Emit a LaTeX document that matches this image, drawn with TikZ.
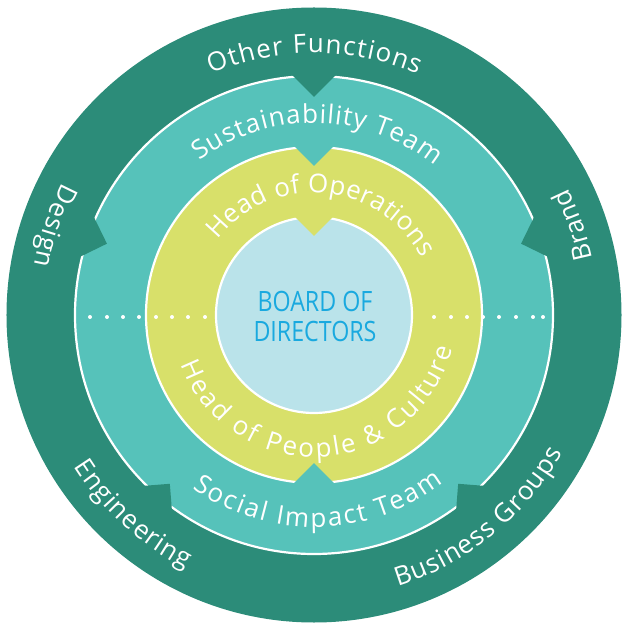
\documentclass[tikz,border=0pt]{standalone}
\usepackage{fontspec}
\setmainfont{Open Sans}
\newfontfamily\ringfont{Open Sans}
\newfontfamily\boardfont[FakeStretch=0.83]{Open Sans}
\usetikzlibrary{decorations.text}
\definecolor{darkg}{HTML}{2C8C79}
\definecolor{tealc}{HTML}{56C2BA}
\definecolor{yellc}{HTML}{D8E06A}
\definecolor{lblue}{HTML}{BAE3EA}
\definecolor{cyant}{HTML}{19A9DF}
\tikzset{
  ringlabel/.style n args={2}{decorate, decoration={text along path,
      text={|\ringfont\fontsize{26}{30}\selectfont\kern#1pt|#2},
      text align=center, text color=white}},
  whiteline/.style={draw=white, line width=2.2pt},
  dotmark/.style={fill=white},
  boardtext/.style={text=cyant, font=\boardfont\fontsize{28}{30}\selectfont, anchor=base, inner sep=0pt},
}
% clockwise label (reads over the top): letter spacing, centre angle, radius, text
\newcommand\cwlabel[4]{\path[ringlabel={#1}{#4}] (#2+100:#3) arc[start angle=#2+100, end angle=#2-100, radius=#3];}
% counter-clockwise label (reads along the bottom): letter spacing, centre angle, radius, text
\newcommand\ccwlabel[4]{\path[ringlabel={#1}{#4}] (#2-100:#3) arc[start angle=#2-100, end angle=#2+100, radius=#3];}
% notch: colour, angle, base radius, depth
\newcommand\notch[4]{\fill[#1, rotate=#2] (#3-#4,0) -- (#3+4,#4+4) -- (#3+4,-#4-4) -- cycle;}
\begin{document}
\begin{tikzpicture}[x=1pt,y=1pt]
\useasboundingbox (-314,-308) rectangle (307,315);
% outer ring
\fill[darkg] (0,0) circle[radius=307.5];
% teal ring
\fill[tealc] (0,0) circle[radius=239];
\draw[whiteline] (0,0) circle[radius=239];
\notch{darkg}{90}{239}{21}
\notch{darkg}{19}{239}{20}
\notch{darkg}{161}{239}{20}
\notch{darkg}{229.5}{239}{17}
\notch{darkg}{310.5}{239}{17}
% yellow ring
\fill[yellc] (0,0) circle[radius=168];
\draw[whiteline] (0,0) circle[radius=168];
\notch{tealc}{90}{168}{19}
\notch{tealc}{270}{168}{20}
% centre
\fill[lblue] (0,0) circle[radius=98];
\draw[whiteline] (0,0) circle[radius=98];
\notch{yellc}{90}{98}{19}
% dotted divider
\foreach \x in {-224,-207,-191,-175,-158,-142,-126,-109,120,137,153,169,185,202,219,229}
  \fill[dotmark] (\x,-2) circle[radius=2];
% labels
\cwlabel{1.3}{90}{262}{Other Functions}
\ccwlabel{1.0}{161}{284}{Design}
\ccwlabel{0.3}{19}{284}{Brand}
\ccwlabel{1.0}{227.6}{284}{Engineering}
\ccwlabel{1.0}{309}{284}{Business Groups}
\cwlabel{1.0}{89}{192}{Sustainability Team}
\ccwlabel{2.0}{271}{212}{Social Impact Team}
\cwlabel{0.3}{85}{122}{Head of Operations}
\ccwlabel{2.4}{273}{142}{Head of People {\&} Culture}
\node[boardtext] (board1) at (1,3) {BOARD OF};
\node[boardtext] (board2) at (1,-27) {DIRECTORS};
\end{tikzpicture}
\end{document}
